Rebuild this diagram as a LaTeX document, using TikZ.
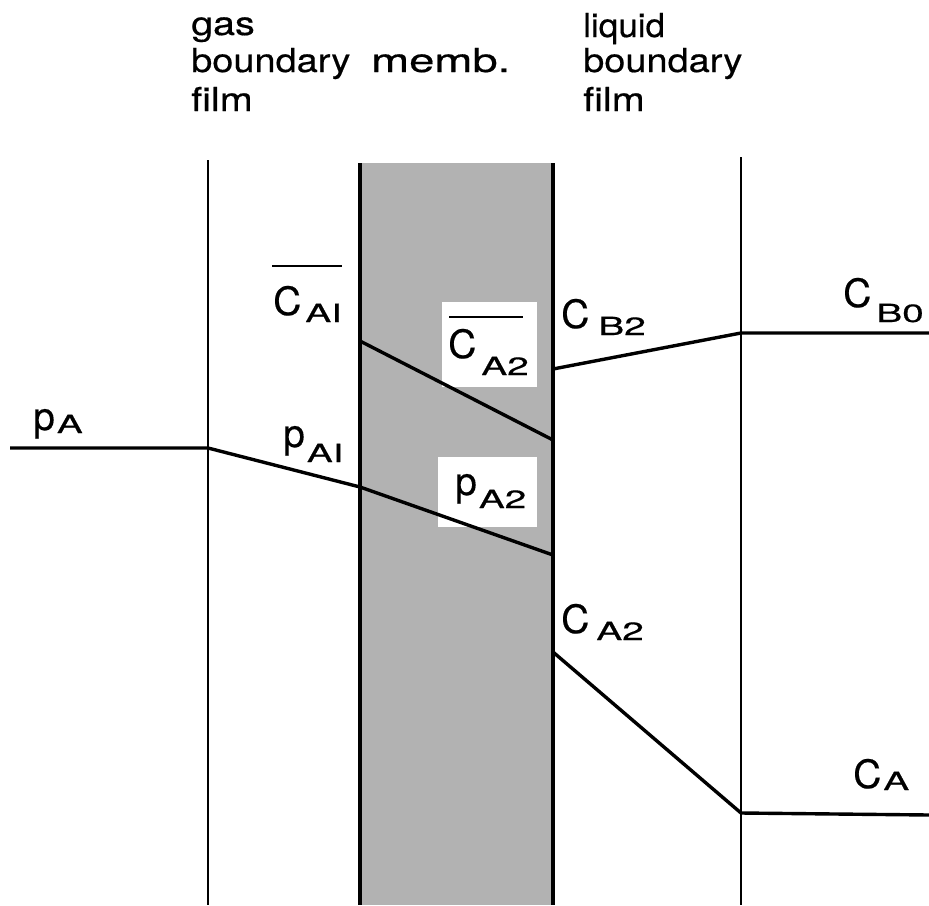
\documentclass[tikz,border=0pt]{standalone}
\usepackage{fontspec}
\setmainfont{TeX Gyre Heros}[FakeBold=0.4]
\usepackage{graphicx}
\usetikzlibrary{calc}
\newcommand\hd[2]{\scalebox{#1}[1]{#2}}
\newcommand\lbl[4]{#1\kern#4pt\raisebox{-#3pt}{\fontsize{25}{25}\selectfont\scalebox{1.55}[1]{#2}}}
\begin{document}
\begin{tikzpicture}[x=1pt,y=-1pt,
  guide/.style={line width=2.3pt},
  wall/.style={line width=4pt},
  profile/.style={line width=3.4pt, line join=round},
  bar/.style={line width=2.6pt},
  hdr/.style={anchor=base west, inner sep=0pt, font=\fontsize{33}{37}\selectfont},
  var/.style={anchor=base west, inner sep=0pt, font=\fontsize{39}{42}\selectfont},
  membfill/.style={fill=black!30}]
\useasboundingbox (0,0) rectangle (929,905);
\fill[white] (0,0) rectangle (929,905);

% headers
\node[hdr] (h1) at (191,35) {\hd{1.2}{gas}};
\node[hdr] (h2) at (191,72) {\hd{1.15}{boundary}};
\node[hdr] (h3) at (191,111) {\hd{1.2}{film}};
\node[hdr] (h4) at (371,72) {\hd{1.38}{memb.}};
\node[hdr] (h5) at (583,37) {\hd{1.06}{liquid}};
\node[hdr] (h6) at (583,72) {\hd{1.15}{boundary}};
\node[hdr] (h7) at (583,111) {\hd{1.2}{film}};

% membrane
\fill[membfill] (360,163) rectangle (553,905);
\coordinate (mlt) at (360,163); \coordinate (mlb) at (360,905);
\coordinate (mrt) at (553,163); \coordinate (mrb) at (553,905);
\draw[wall] (mlt) -- (mlb);
\draw[wall] (mrt) -- (mrb);

% other boundaries
\coordinate (gt) at (208,160); \coordinate (gb) at (208,905);
\coordinate (lt) at (741,157); \coordinate (lb) at (741,905);
\draw[guide] (gt) -- (gb);
\draw[guide] (lt) -- (lb);

% white label boxes in the membrane
\fill[white] (442,302) rectangle (537,387);
\fill[white] (438,457) rectangle (537,527);

% profile points
\coordinate (pa0) at (10,448);
\coordinate (pa1) at (208,448);
\coordinate (pa2) at (360,487);
\coordinate (pa3) at (553,555);
\coordinate (cm1) at (360,341);
\coordinate (cm2) at (553,440);
\coordinate (cb2) at (553,369);
\coordinate (cb1) at (741,333);
\coordinate (cb0) at (929,333);
\coordinate (ca2) at (553,652);
\coordinate (ca1) at (741,813);
\coordinate (ca0) at (929,815);

\draw[profile] (pa0) -- (pa1) -- (pa2) -- (pa3);
\draw[profile] (cm1) -- (cm2);
\draw[profile] (cb2) -- (cb1) -- (cb0);
\draw[profile] (ca2) -- (ca1) -- (ca0);

% labels
\node[var] (lpa) at (33,430) {\lbl{p}{A}{3}{2}};
\node[var] (lpai) at (283,447) {\lbl{p}{AI}{15}{2}};
\node[var] (lpa2) at (455,495) {\lbl{p}{A2}{13}{2}};
\node[var] (lcai) at (273,315) {\lbl{C}{AI}{7}{4}};
\node[var] (lcam) at (448,358) {\lbl{C}{A2}{17}{5}};
\node[var] (lcb2) at (561,328) {\lbl{C}{B2}{7}{9}};
\node[var] (lcb0) at (843,307) {\lbl{C}{B0}{15}{5}};
\node[var] (lca2) at (561,633) {\lbl{C}{A2}{7}{7}};
\node[var] (lca) at (853,788) {\lbl{C}{A}{2}{2}};

% overbars
\draw[bar] ($(lcai.base west)+(-1,-49)$) -- ++(70,0);
\draw[bar] ($(lcam.base west)+(1,-41)$) -- ++(74,0);
\end{tikzpicture}
\end{document}
